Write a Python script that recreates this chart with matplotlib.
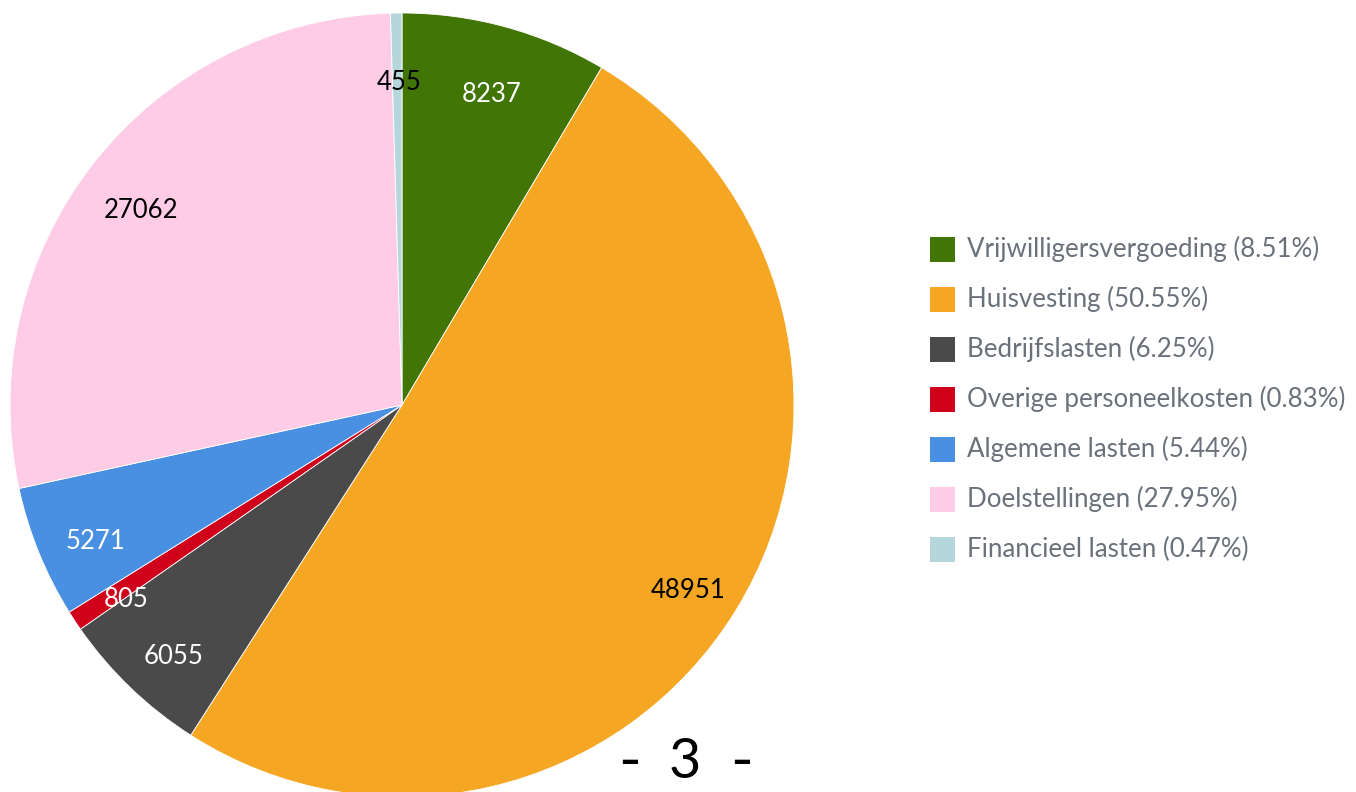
import matplotlib
matplotlib.use("Agg")
import matplotlib.pyplot as plt
from matplotlib.patches import Rectangle

categories = ["Vrijwilligersvergoeding", "Huisvesting", "Bedrijfslasten",
              "Overige personeelkosten", "Algemene lasten", "Doelstellingen",
              "Financieel lasten"]
values = [8237, 48951, 6055, 805, 5271, 27062, 455]
percent_labels = ["8.51%", "50.55%", "6.25%", "0.83%", "5.44%", "27.95%", "0.47%"]
colors = ["#417505", "#F5A623", "#4A4A4A", "#D0021B", "#4A90E2", "#FECCE7", "#B5D6DB"]
label_colors = ["white", "black", "white", "white", "white", "black", "black"]
page_parts = ["-", "3", "-"]

W, H = 1356, 792
fig = plt.figure(figsize=(W / 100, H / 100), dpi=100)
fig.patch.set_facecolor("white")

cx, cy, r = 402, 405, 392
ax = fig.add_axes([(cx - r) / W, (H - cy - r) / H, 2 * r / W, 2 * r / H])
wedges, texts = ax.pie(values, colors=colors, startangle=90, counterclock=False,
                       radius=1.0, labels=[str(v) for v in values],
                       labeldistance=0.85,
                       wedgeprops=dict(edgecolor="white", linewidth=0.6),
                       textprops=dict(family="Lato", fontsize=18.5))
for t, c in zip(texts, label_colors):
    t.set_color(c)
    t.set_ha("center")
    t.set_va("center")
    x, y = t.get_position()
    t.set_position((x + 2 / r, y - 11 / r))
ax.set_xlim(-1, 1)
ax.set_ylim(-1, 1)
ax.set_aspect("equal")
ax.axis("off")

# Legend
x0, y0, dy, sq = 930, 249, 50, 25
for i, (cat, pct, col) in enumerate(zip(categories, percent_labels, colors)):
    yc = y0 + i * dy
    fig.patches.append(Rectangle((x0 / W, (H - yc - sq / 2) / H), sq / W, sq / H,
                                 transform=fig.transFigure, facecolor=col,
                                 edgecolor="none"))
    fig.text((x0 + 37) / W, (H - yc) / H, f"{cat} ({pct})", family="Lato",
             fontsize=18.6, color="#6B717A", ha="left", va="center")

for txt, xp in zip(page_parts, [630, 685, 742]):
    fig.text(xp / W, (H - 762) / H, txt, family="Lato",
             fontsize=40 if txt != "-" else 44, color="black",
             ha="center", va="center")

fig.savefig("out.png", dpi=100)
